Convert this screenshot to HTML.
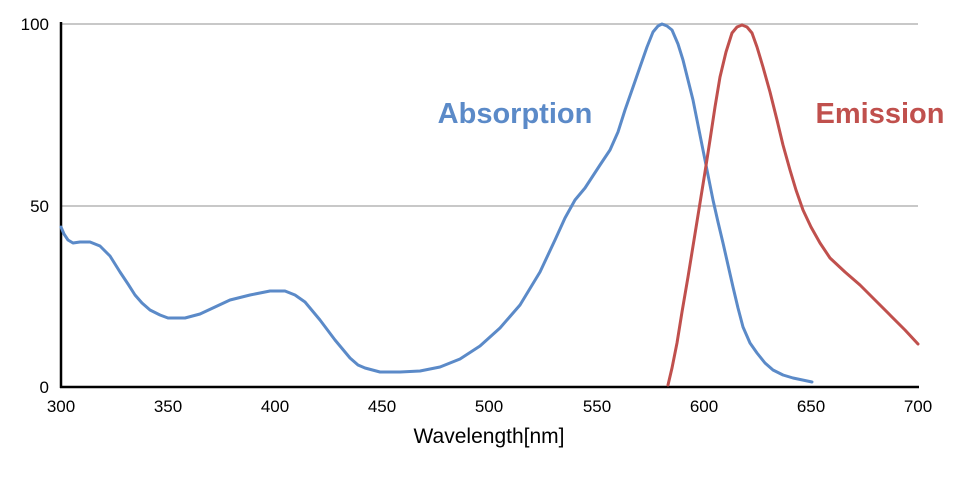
<!DOCTYPE html>
<html><head><meta charset="utf-8"><style>
html,body{margin:0;padding:0;background:#fff;}
svg{display:block;font-family:"Liberation Sans",sans-serif;}
</style></head><body>
<svg width="980" height="477" viewBox="0 0 980 477" xmlns="http://www.w3.org/2000/svg">
<line x1="61" y1="24" x2="918" y2="24" stroke="#c8c8c8" stroke-width="2"/>
<line x1="61" y1="206" x2="918" y2="206" stroke="#c8c8c8" stroke-width="2"/>
<line x1="61" y1="22" x2="61" y2="388" stroke="#000" stroke-width="2.5"/>
<line x1="60" y1="387" x2="919" y2="387" stroke="#000" stroke-width="2.5"/>
<g font-size="17" fill="#000" text-anchor="end">
<text x="49" y="30">100</text><text x="49" y="212">50</text><text x="49" y="393">0</text>
</g>
<g font-size="17" fill="#000" text-anchor="middle">
<text x="61" y="412">300</text><text x="168" y="412">350</text><text x="275" y="412">400</text>
<text x="382" y="412">450</text><text x="489" y="412">500</text><text x="597" y="412">550</text>
<text x="704" y="412">600</text><text x="811" y="412">650</text><text x="918" y="412">700</text>
</g>
<text x="489" y="443" font-size="21" text-anchor="middle" fill="#000">Wavelength[nm]</text>
<polyline fill="none" stroke="#5b8ac8" stroke-width="3" stroke-linejoin="round" stroke-linecap="round" points="61,227 64,234 68,240 73,243 80,242 90,242 100,246 110,256 120,272 128,284 135,295 142,303 150,310 160,315 168,318 185,318 200,314 215,307 230,300 250,295 270,291 285,291 295,295 305,302 320,320 335,340 350,358 358,365 365,368 380,372 400,372 420,371 440,367 460,359 480,346 500,328 520,305 540,272 555,240 565,218 575,200 585,188 600,165 610,150 618,132 625,110 632,90 640,67 647,47 653,32 658,26 662,24 667,26 672,30 678,44 683,60 688,80 693,100 698,125 703,150 708,175 713,200 718,222 723,243 728,265 733,287 738,308 743,327 750,343 757,353 765,363 773,370 783,375 793,378 812,382"/>
<polyline fill="none" stroke="#c0504d" stroke-width="3" stroke-linejoin="round" stroke-linecap="round" points="668,385 672,368 677,343 682,312 688,277 694,240 700,203 705,172 710,140 715,107 720,77 726,52 732,33 737,27 742,25 747,27 752,33 757,47 763,67 770,92 777,120 783,145 790,170 796,190 803,210 811,227 820,243 830,258 845,272 860,285 875,300 890,315 905,330 918,344"/>
<text x="515" y="123" font-size="29" font-weight="bold" fill="#5b8ac8" text-anchor="middle">Absorption</text>
<text x="880" y="123" font-size="29" font-weight="bold" fill="#c0504d" text-anchor="middle">Emission</text>
</svg>
</body></html>
